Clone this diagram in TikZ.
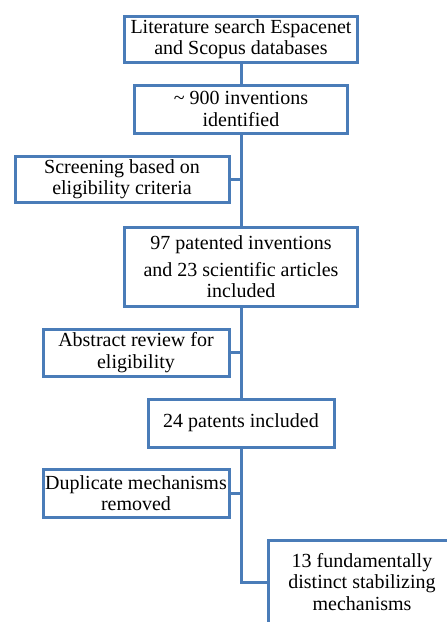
\documentclass[tikz,border=0pt]{standalone}
\usepackage{fontspec}
\setmainfont{Liberation Serif}
\definecolor{boxblue}{RGB}{74,124,184}
\begin{document}
\begin{tikzpicture}[x=1pt,y=-1pt,
  box/.style={draw=boxblue, line width=3pt, fill=white, rectangle, inner sep=0pt,
    align=center, font=\fontsize{20}{21.5}\selectfont, text=black},
  link/.style={draw=boxblue, line width=3pt}]
\clip (0,0) rectangle (447,622);
\fill[white] (0,0) rectangle (447,622);
\node[box, minimum width=233pt, minimum height=46pt] (b1) at (241,39) {Literature search Espacenet\\and Scopus databases};
\node[box, minimum width=213pt, minimum height=48pt] (b2) at (241,109) {\textasciitilde{} 900 inventions\\identified};
\node[box, minimum width=214pt, minimum height=46pt] (b3) at (122,179) {Screening based on\\eligibility criteria};
\node[box, minimum width=233pt, minimum height=79pt] (b4) at (241,266.5) {97 patented inventions\\[6pt]and 23 scientific articles\\[-1pt]included};
\node[box, minimum width=186pt, minimum height=47pt] (b5) at (136,352.5) {Abstract review for\\eligibility};
\node[box, minimum width=186pt, minimum height=48pt] (b6) at (241,423) {24 patents included};
\node[box, minimum width=186pt, minimum height=48pt] (b7) at (136,493) {Duplicate mechanisms\\removed};
\node[box, minimum width=188pt, minimum height=84pt] (b8) at (362,582) {13 fundamentally\\distinct stabilizing\\mechanisms};
\draw[link] (b1.south) -- (b2.north);
\draw[link] (b2.south) -- (b4.north);
\draw[link] (b4.south) -- (b6.north);
\draw[link] (b3.east) -- (b3.east -| b2.south);
\draw[link] (b5.east) -- (b5.east -| b4.south);
\draw[link] (b7.east) -- (b7.east -| b6.south);
\draw[link] (b6.south) |- (b8.west);
\end{tikzpicture}
\end{document}
